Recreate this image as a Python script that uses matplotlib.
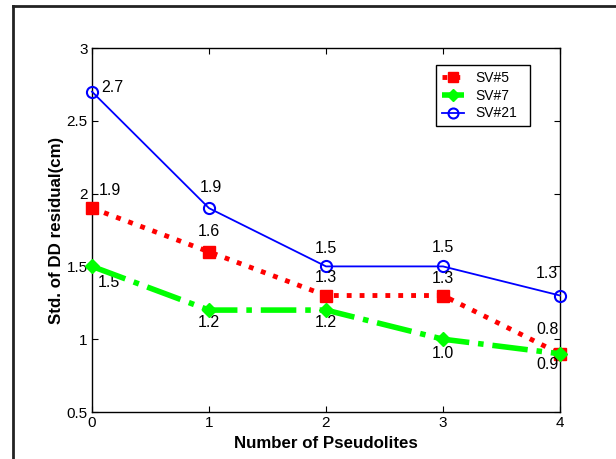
import matplotlib
matplotlib.use("Agg")
import matplotlib.pyplot as plt
from matplotlib.lines import Line2D

plt.rcParams['font.family'] = ['Liberation Sans', 'DejaVu Sans']

# data
pseudolites = [0, 1, 2, 3, 4]
sv5 = [1.9, 1.6, 1.3, 1.3, 0.9]
sv7 = [1.5, 1.2, 1.2, 1.0, 0.9]
sv21 = [2.7, 1.9, 1.5, 1.5, 1.3]

# value labels: (x, y, text)
labels21 = [(0.17, 2.73, "2.7"), (1.02, 2.045, "1.9"), (2.0, 1.62, "1.5"),
            (3.0, 1.63, "1.5"), (3.89, 1.45, "1.3")]
labels5 = [(0.15, 2.02, "1.9"), (1.0, 1.743, "1.6"), (2.0, 1.427, "1.3"),
           (3.0, 1.42, "1.3"), (3.89, 1.07, "0.8")]
labels7 = [(0.14, 1.39, "1.5"), (1.0, 1.118, "1.2"), (2.0, 1.118, "1.2"),
           (3.0, 0.905, "1.0"), (3.89, 0.823, "0.9")]

fig = plt.figure(figsize=(6.16, 4.59), dpi=100)
ax = fig.add_axes([92/616, 47/459, 468/616, 364/459])

ax.plot(pseudolites, sv5, color='#ff0000', linestyle=':', linewidth=3.5,
        marker='s', markersize=8, markerfacecolor='#ff0000', label='SV#5',
        clip_on=False, zorder=3)
ax.plot(pseudolites, sv7, color='#00ff00', linestyle='-.', linewidth=4,
        marker='D', markersize=7, markerfacecolor='#00ff00', label='SV#7',
        clip_on=False, zorder=4)
ax.plot(pseudolites, sv21, color='#0000ff', linestyle='-', linewidth=1.3,
        marker='o', markersize=8, markerfacecolor='none', markeredgewidth=1.5,
        label='SV#21', clip_on=False, zorder=3)

for lst in (labels21, labels5, labels7):
    for x, y, t in lst:
        ax.text(x, y, t, ha='center', va='center', fontsize=11.5)

ax.set_xlim(0, 4)
ax.set_ylim(0.5, 3)
ax.set_xticks([0, 1, 2, 3, 4])
ax.set_yticks([0.5, 1, 1.5, 2, 2.5, 3])
ax.set_yticklabels(['0.5', '1', '1.5', '2', '2.5', '3'])
ax.tick_params(direction='in', top=True, right=True, labelsize=11, length=4, pad=3)
for s in ax.spines.values():
    s.set_linewidth(1)

ax.set_xlabel('Number of Pseudolites', fontsize=12.2, fontweight='bold', labelpad=4)
ax.set_ylabel('Std. of DD residual(cm)', fontsize=12.2, fontweight='bold', labelpad=2)

leg = ax.legend(loc='upper left', bbox_to_anchor=(0.735, 0.797, 0.201, 0.156),
                mode='expand', borderaxespad=0, fancybox=False, edgecolor='black',
                fontsize=10, handlelength=1.6, handletextpad=0.8, labelspacing=0.28,
                framealpha=1, markerscale=0.9)
leg.get_frame().set_linewidth(1)

# outer frame (top and left visible)
fig.add_artist(Line2D([13/616, 1], [1 - 6/459, 1 - 6/459], color='#222222', linewidth=2,
                      transform=fig.transFigure))
fig.add_artist(Line2D([13/616, 13/616], [0, 1 - 6/459], color='#222222', linewidth=2,
                      transform=fig.transFigure))

fig.savefig('out.png', dpi=100)
